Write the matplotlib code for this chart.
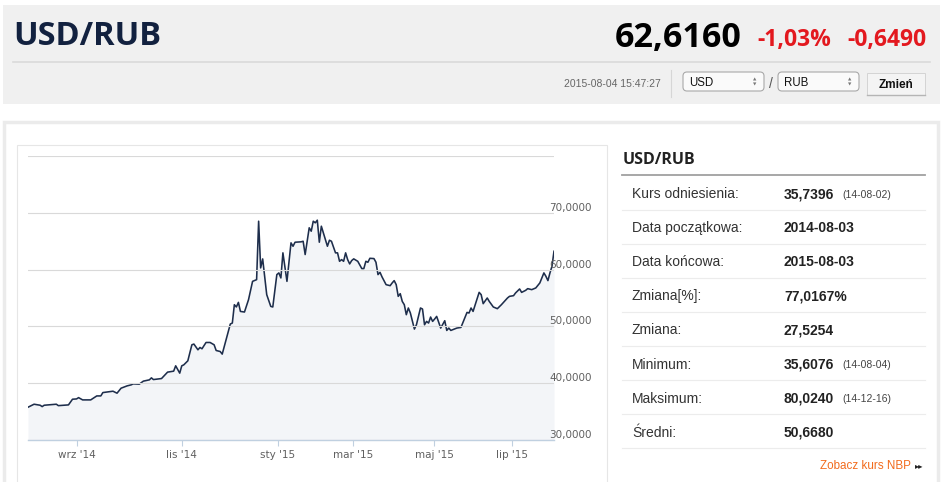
import matplotlib.pyplot as plt
from matplotlib.patches import Rectangle, FancyBboxPatch
from matplotlib.transforms import ScaledTranslation

# USD/RUB close; x = trading session number (ordinal axis)
session = [0, 3, 6, 7, 8, 14, 15, 20, 22, 24, 25, 27, 31, 34, 36, 37, 42, 44, 46, 49,
           51, 52, 55, 57, 60, 61, 62, 66, 69, 72, 73, 75, 76, 77, 79, 81, 82, 84, 85, 86,
           88, 90, 92, 93, 95, 96, 100, 101, 102, 103, 104, 105, 107, 109, 111, 113, 114, 115, 116, 118,
           120, 121, 123, 124, 125, 126, 128, 130, 131, 132, 135, 136, 137, 139, 140, 141, 142, 143, 144, 145,
           147, 148, 149, 150, 152, 153, 154, 155, 156, 157, 158, 159, 160, 161, 163, 165, 166, 167, 168, 169,
           171, 172, 173, 174, 175, 177, 179, 180, 181, 182, 183, 184, 185, 186, 187, 188, 189, 191, 192, 194,
           195, 196, 197, 198, 199, 200, 201, 202, 204, 206, 207, 208, 209, 212, 214, 217, 218, 219, 220, 223,
           224, 225, 227, 228, 230, 232, 234, 237, 238, 240, 241, 243, 244, 246, 247, 249, 251, 253, 255, 256,
           257, 258, 259, 260]
rate = [35.77, 36.30, 36.12, 35.88, 36.12, 36.30, 36.05, 36.18, 37.18, 37.23, 37.46, 37.06, 37.06, 37.76, 37.76, 38.35, 38.59, 38.24, 39.12, 39.53,
        39.71, 39.88, 39.83, 40.36, 40.59, 40.94, 40.64, 40.82, 41.95, 42.12, 43.06, 41.77, 43.06, 43.23, 43.94, 46.76, 46.89, 45.88, 46.29, 46.06,
        47.17, 47.17, 46.76, 45.76, 45.58, 45.12, 50.42, 50.59, 53.82, 53.42, 54.23, 52.64, 52.53, 54.70, 57.93, 58.23, 68.52, 60.30, 61.88, 55.59,
        53.52, 53.42, 59.12, 59.42, 58.53, 62.95, 57.93, 64.71, 64.11, 64.82, 64.89, 64.99, 62.65, 67.36, 66.76, 68.52, 68.24, 68.70, 64.82, 67.64,
        65.29, 64.11, 65.17, 64.99, 62.95, 62.95, 61.46, 61.76, 61.46, 62.95, 61.76, 61.00, 61.59, 61.89, 61.46, 60.18, 60.18, 61.46, 61.29, 61.99,
        61.94, 61.29, 59.12, 59.52, 58.71, 57.35, 57.17, 57.65, 58.06, 57.35, 55.29, 55.76, 54.40, 53.82, 52.06, 53.24, 52.36, 49.53, 50.29, 53.24,
        53.06, 50.29, 50.88, 50.59, 51.65, 50.88, 51.30, 51.76, 49.71, 51.00, 49.29, 49.71, 49.29, 49.71, 49.82, 52.46, 52.36, 53.24, 52.64, 55.99,
        55.59, 54.00, 55.00, 54.40, 53.42, 53.12, 53.82, 55.00, 55.29, 55.41, 55.89, 56.59, 55.99, 56.35, 56.65, 56.47, 56.77, 57.65, 59.42, 58.82,
        58.06, 59.42, 60.58, 63.23]

month_pos = [24.4, 76.0, 123.4, 160.8, 200.8, 239.4]
month_labels = ["wrz '14", "lis '14", "sty '15", "mar '15", "maj '15", "lip '15"]
y_ticks = [30, 40, 50, 60, 70, 80]

pair = 'USD/RUB'
last_rate = '62,6160'
change_pct = '-1,03%'
change_abs = '-0,6490'
timestamp = '2015-08-04 15:47:27'

stat_labels = ['Kurs odniesienia:', 'Data początkowa:', 'Data końcowa:', 'Zmiana[%]:',
               'Zmiana:', 'Minimum:', 'Maksimum:', 'Średni:']
stat_values = ['35,7396', '2014-08-03', '2015-08-03', '77,0167%',
               '27,5254', '35,6076', '80,0240', '50,6680']
stat_dates = ['(14-08-02)', '', '', '', '', '(14-08-04)', '(14-12-16)', '']

ARIAL = 'Liberation Sans'
OPEN = 'Open Sans'

fig = plt.figure(figsize=(9.45, 4.82), dpi=100)

# page layer in pixel coordinates
bg = fig.add_axes([0, 0, 1, 1])
bg.set_xlim(0, 945)
bg.set_ylim(482, 0)
bg.axis('off')

# header
bg.add_patch(Rectangle((3, 5), 937, 99, fc='#f0f0f0', ec='none'))
bg.plot([13, 930], [62, 62], color='#dadada', lw=1.2)
bg.plot([671, 671], [70, 97], color='#d6d6d6', lw=0.8)
bg.text(13, 45, pair, family=OPEN, weight='bold', fontsize=23.5, color='#12213f', va='baseline')
bg.text(742, 47, last_rate, family=OPEN, weight='bold', fontsize=24.5, color='black', va='baseline', ha='right')
bg.text(757, 46, change_pct, family=OPEN, weight='bold', fontsize=16.5, color='#e3191f', va='baseline')
bg.text(847, 46, change_abs, family=OPEN, weight='bold', fontsize=16.5, color='#e3191f', va='baseline')
bg.text(661, 87, timestamp, family=ARIAL, fontsize=7.5, color='#666666', va='baseline', ha='right')

for x0, cur in [(683, 'USD'), (778, 'RUB')]:
    bg.add_patch(FancyBboxPatch((x0, 72), 81, 19, boxstyle='round,pad=0,rounding_size=4',
                                fc='#fafafa', ec='#a9a9a9', lw=0.8))
    bg.text(x0 + 6, 86, cur, family=ARIAL, fontsize=8.3, color='#111111', va='baseline')
    bg.text(x0 + 72, 79.5, '▲', fontsize=3.2, color='#777777', ha='center', va='center')
    bg.text(x0 + 72, 84.5, '▼', fontsize=3.2, color='#777777', ha='center', va='center')
bg.text(771, 88, '/', family=ARIAL, fontsize=10, color='#555555', ha='center', va='baseline')

bg.add_patch(Rectangle((867, 73), 58, 22, fc='#f4f4f4', ec='#d4d4d4', lw=0.7))
bg.plot([867, 925], [95, 95], color='#b5b5b5', lw=1)
bg.text(896, 88.5, 'Zmień', family=ARIAL, weight='bold', fontsize=8.5, color='#111111', ha='center', va='baseline')

# content boxes
bg.add_patch(Rectangle((4, 122), 934, 400, fc='white', ec='#ebebeb', lw=2.5))
bg.add_patch(Rectangle((17, 145), 590, 400, fc='white', ec='#e6e6e6', lw=0.8))

# stats table
bg.text(623, 164, pair, family=OPEN, weight='bold', fontsize=11.5, color='#222222', va='baseline')
bg.plot([622, 925], [175, 175], color='#a0a0a0', lw=1.3)
row_h = 34.05
for i, (lab, val, dt) in enumerate(zip(stat_labels, stat_values, stat_dates)):
    yc = 193.3 + i * row_h
    bg.text(632, yc + 5, lab, family=ARIAL, fontsize=10, color='#333333', va='baseline')
    bg.text(784, yc + 5, val, family=ARIAL, weight='bold', fontsize=10, color='#222222', va='baseline')
    if dt:
        bg.text(842, yc + 4.5, dt, family=ARIAL, fontsize=7.5, color='#444444', va='baseline')
    bg.plot([622, 925], [210 + i * row_h] * 2, color='#ececec', lw=0.8)
bg.text(911, 469, 'Zobacz kurs NBP', family=ARIAL, fontsize=8.4, color='#f26b1d', ha='right', va='baseline')
bg.text(915, 468.5, '▸▸', fontsize=6, color='#222222', va='baseline')

# chart
ax = fig.add_axes([28 / 945, 42 / 482, 526 / 945, 284 / 482])
ax.patch.set_alpha(0)
ax.fill_between(session, rate, 30, color='#f3f5f8', lw=0, zorder=0.3)
ax.plot(session, rate, color='#1e2e4c', lw=1.15, zorder=2)
ax.set_xlim(0, 260)
ax.set_ylim(30, 80)

for s in ['top', 'left', 'right']:
    ax.spines[s].set_visible(False)
ax.spines['bottom'].set_color('#c0d0e0')
ax.spines['bottom'].set_linewidth(1)

ax.set_xticks(month_pos, month_labels)
ax.tick_params(axis='x', direction='out', length=4.3, width=0.8, color='#c0d0e0',
               labelcolor='#606060', labelsize=7.5, pad=3)

ax.yaxis.tick_right()
ax.set_yticks(y_ticks, [f'{v:.4f}'.replace('.', ',') if v < 80 else '' for v in y_ticks])
ax.tick_params(axis='y', length=0, pad=-3.6, labelcolor='#606060', labelsize=7.5)
for lab in ax.get_yticklabels():
    lab.set_fontfamily('DejaVu Sans')
    lab.set_horizontalalignment('left')
    lab.set_transform(lab.get_transform() + ScaledTranslation(0, 6 / 100, fig.dpi_scale_trans))
for lab in ax.get_xticklabels():
    lab.set_fontfamily('DejaVu Sans')
ax.yaxis.grid(True, color='#d9d9d9', lw=0.8, zorder=0.5)
ax.set_axisbelow(False)

fig.savefig('out.png', dpi=100)
